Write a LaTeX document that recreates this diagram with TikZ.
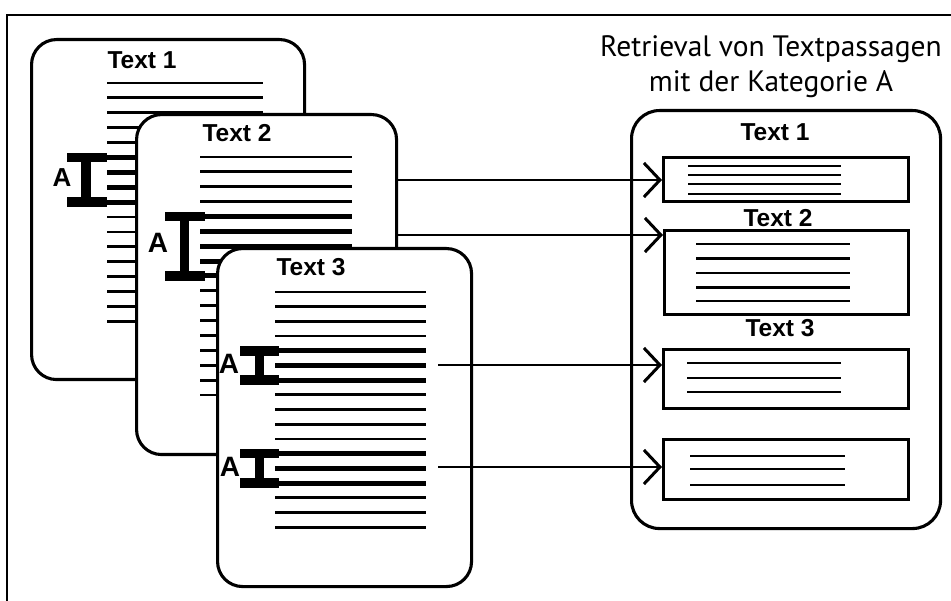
\documentclass[tikz,border=0pt]{standalone}
\usepackage{fontspec}
\setmainfont{Liberation Sans}
\newfontfamily\kopffont{PT Sans}
\usetikzlibrary{positioning, arrows.meta, calc}

\begin{document}
\begin{tikzpicture}[x=1pt, y=-1pt,
    karte/.style={draw, line width=3.1pt, rounded corners=25pt, fill=white, anchor=north west, inner sep=0pt},
    kasten/.style={draw, line width=2.8pt, anchor=north west, inner sep=0pt},
    titel/.style={font=\fontsize{24.5}{29}\selectfont\bfseries, inner sep=0pt},
    buchstabe/.style={font=\fontsize{26}{31}\selectfont\bfseries, inner sep=0pt},
    kopf/.style={font=\kopffont\fontsize{29.5}{35}\selectfont, anchor=base, inner sep=0pt},
    zeile/.style={line width=2.8pt},
    markiert/.style={line width=5pt},
    klammer/.style={line width=9.5pt},
    pfeil/.style={line width=2.2pt, -{Straight Barb[length=16pt, width=34pt, line width=3pt]}}]
  \useasboundingbox (0,0) rectangle (951,601);
  \draw[line width=1.6pt] (7,601) -- (7,15) -- (951,15);

  % Ergebnis: Textpassagen mit Kategorie A
  \node[kopf] (kopf1) at (771,57) {Retrieval von Textpassagen};
  \node[kopf] (kopf2) at (771,92) {mit der Kategorie A};
  \node[karte, rounded corners=28pt, minimum width=309pt, minimum height=418pt] (ziel) at (630,109) {};
  \node[titel] (z1) at (775,132) {Text 1};
  \node[titel] (z2) at (778,218) {Text 2};
  \node[titel] (z3) at (780,328) {Text 3};
  \node[kasten, minimum width=245pt, minimum height=44pt] (k1) at (662,156) {};
  \node[kasten, minimum width=244pt, minimum height=84pt] (k2) at (663,229) {};
  \node[kasten, minimum width=245pt, minimum height=59pt] (k3) at (662,348) {};
  \node[kasten, minimum width=245pt, minimum height=60pt] (k4) at (662,438) {};
  \foreach \y in {166,175,184,194} \draw[zeile] (688,\y) -- (841,\y);
  \foreach \y in {244,258.5,273,287.5,301} \draw[zeile] (696,\y) -- (850,\y);
  \foreach \y in {363,378,392} \draw[zeile] (687,\y) -- (841,\y);
  \foreach \y in {456,469,485} \draw[zeile] (690,\y) -- (845,\y);

  % Text 1
  \node[karte, minimum width=273pt, minimum height=340pt] (t1) at (30,38) {};
  \node[titel] (t1titel) at (142,60) {Text 1};
  \foreach \i in {0,...,16} \draw[zeile] (107,83+14.9*\i) -- (263,83+14.9*\i);
  \foreach \i in {5,...,8} \draw[markiert] (107,83+14.9*\i) -- (263,83+14.9*\i);
  \draw[klammer] (67,157.5) -- (107,157.5) (86,157.5) -- (86,202.2) (67,202.2) -- (107,202.2);
  \node[buchstabe] (a1) at (62,178) {A};
  \coordinate (p1) at (263,180);
  \draw[pfeil] (p1) -- (p1 -| k1.west);

  % Text 2
  \coordinate (p2) at (352,235);
  \draw[pfeil] (p2) -- (p2 -| k2.west);
  \node[karte, minimum width=260pt, minimum height=340pt] (t2) at (135,113) {};
  \node[titel] (t2titel) at (237,133) {Text 2};
  \foreach \i in {0,...,16} \draw[zeile] (200,157+14.875*\i) -- (352,157+14.875*\i);
  \foreach \i in {4,...,8} \draw[markiert] (200,157+14.875*\i) -- (352,157+14.875*\i);
  \draw[klammer] (165,216.5) -- (205,216.5) (184.5,216.5) -- (184.5,276) (165,276) -- (205,276);
  \node[buchstabe, font=\fontsize{28}{33}\selectfont\bfseries] (a2) at (158,243) {A};

  % Text 3
  \node[karte, minimum width=254pt, minimum height=338pt] (t3) at (216,247) {};
  \node[titel] (t3titel) at (311,267) {Text 3};
  \foreach \i in {0,...,16} \draw[zeile] (275,292+14.7*\i) -- (426,292+14.7*\i);
  \foreach \i in {4,5,6,11,12,13} \draw[markiert] (275,292+14.7*\i) -- (426,292+14.7*\i);
  \foreach \o/\u in {350.8/380.2, 453.7/483.1}
    \draw[klammer] (240,\o) -- (279,\o) (259.5,\o) -- (259.5,\u) (240,\u) -- (279,\u);
  \node[buchstabe, font=\fontsize{28}{33}\selectfont\bfseries] (a3) at (229,364) {A};
  \node[buchstabe, font=\fontsize{28}{33}\selectfont\bfseries] (a4) at (230,467) {A};
  \coordinate (p3) at (438,365);
  \coordinate (p4) at (438,467);
  \draw[pfeil] (p3) -- (p3 -| k3.west);
  \draw[pfeil] (p4) -- (p4 -| k4.west);
\end{tikzpicture}
\end{document}
